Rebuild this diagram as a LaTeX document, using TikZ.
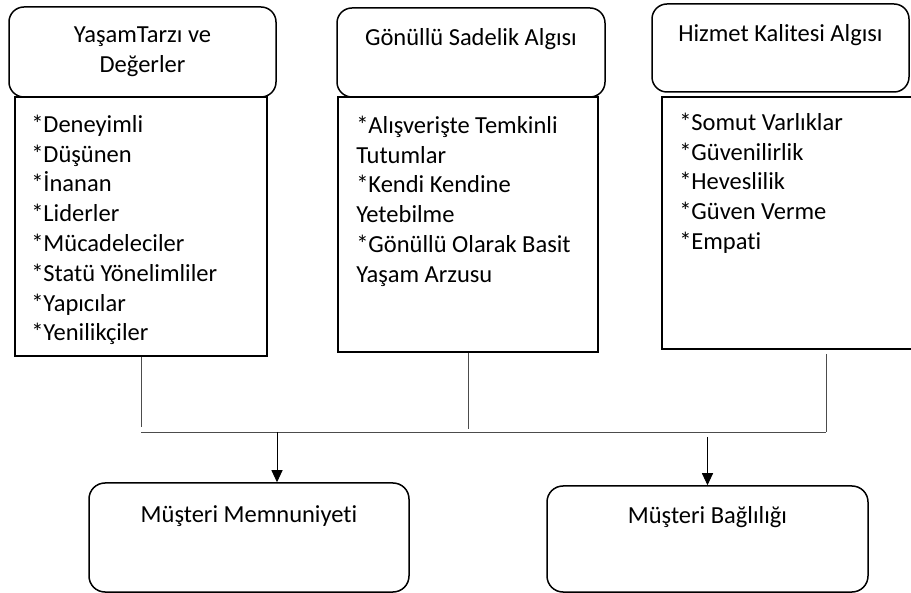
\documentclass[tikz,border=0pt]{standalone}
\usepackage{fontspec}
\setmainfont{Carlito}[Ligatures=NoCommon]
\usetikzlibrary{positioning}
\usetikzlibrary{arrows.meta}

\begin{document}
\begin{tikzpicture}[x=1pt,y=-1pt,
  metin/.style={font=\fontsize{24.5}{29.8}\selectfont},
  baslik/.style={metin,draw,rounded corners=15pt,line width=1.5pt,inner sep=0pt,align=center},
  kutu/.style={draw,line width=1.9pt,inner sep=0pt},
  liste/.style={metin,inner sep=0pt,align=left,anchor=north west},
  sonuc/.style={metin,draw,rounded corners=16pt,line width=1.5pt,inner sep=0pt,text height=18pt,text depth=49pt},
  baglanti/.style={draw=black!70,line width=0.9pt},
  ok/.style={draw=black,line width=0.9pt,-{Triangle[length=12pt,width=11pt]}}]
  \useasboundingbox (0,0) rectangle (911,593);

  % ust kutular
  \node[baslik,minimum width=267pt,minimum height=90pt] (h1) at (142.5,52) {Ya\c{s}amTarz\i{} ve\\De\u{g}erler};
  \node[baslik,minimum width=268pt,minimum height=89pt,text height=18pt,text depth=31pt] (h2) at (471,52.5) {Gönüllü Sadelik Algısı};
  \node[baslik,minimum width=257pt,minimum height=88pt,text height=18pt,text depth=31pt] (h3) at (780.5,48) {Hizmet Kalitesi Algısı};

  % alt cerceveler
  \node[kutu,minimum width=252pt,minimum height=259pt] (c1) at (141,226.5) {};
  \node[kutu,minimum width=260pt,minimum height=255pt] (c2) at (468,224.5) {};
  \node[kutu,minimum width=253pt,minimum height=252pt] (c3) at (788.5,223) {};

  \node[liste] (l1) at ([shift={(17,16)}]c1.north west) {\rule{0pt}{20pt}*Deneyimli\\*Düşünen\\*İnanan\\*Liderler\\*Mücadeleciler\\*Statü Yönelimliler\\*Yapıcılar\\*Yenilikçiler};
  \node[liste] (l2) at ([shift={(19,17)}]c2.north west) {\rule{0pt}{20pt}*Alışverişte Temkinli\\Tutumlar\\*Kendi Kendine\\Yetebilme\\*Gönüllü Olarak Basit\\Yaşam Arzusu};
  \node[liste] (l3) at ([shift={(18,14)}]c3.north west) {\rule{0pt}{20pt}*Somut Varlıklar\\*Güvenilirlik\\*Heveslilik\\*Güven Verme\\*Empati};

  % sonuc kutulari
  \node[sonuc,minimum width=320pt,minimum height=109pt] (b1) at (249,537.5) {Müşteri Memnuniyeti};
  \node[sonuc,minimum width=321pt,minimum height=106pt] (b2) at (707.5,539) {Müşteri Bağlılığı};

  % baglantilar
  \coordinate (sol) at (141,432);
  \coordinate (sag) at (826,432);
  \coordinate (o1) at (277,432);
  \coordinate (o2) at (707.5,437);
  \draw[baglanti] (c1.south) -- ([yshift=5pt]c1.south |- sol);
  \draw[baglanti] (c2.south) -- ([yshift=3pt]c2.south |- sol);
  \draw[baglanti] ([yshift=-4pt]c3.south -| sag) -- (sag);
  \draw[baglanti] (sol) -- (sag);
  \draw[ok] (o1) -- (o1 |- b1.north);
  \draw[ok] (o2) -- (b2.north);
\end{tikzpicture}
\end{document}
